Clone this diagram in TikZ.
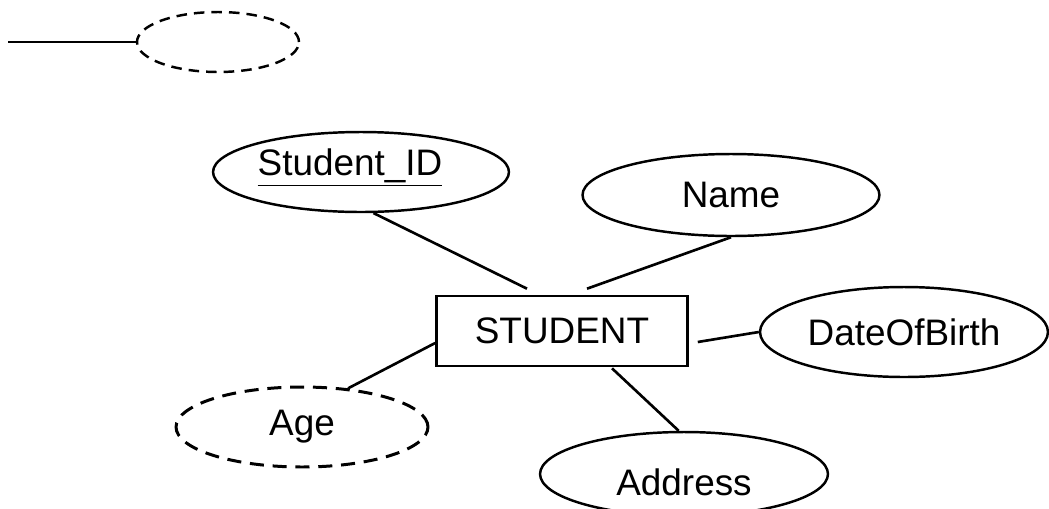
\documentclass[tikz,border=0pt]{standalone}
\usepackage{fontspec}
\setmainfont{Liberation Sans}
\usetikzlibrary{shapes.geometric,calc}
\tikzset{
  entbox/.style={draw, line width=1.5pt, minimum width=5.02cm, minimum height=1.4cm, inner sep=0pt},
  attr/.style={draw, ellipse, line width=1.4pt, inner sep=0pt},
  dattr/.style={attr, line width=1.7pt, dashed, dash pattern=on 8pt off 5pt},
  lnk/.style={line width=1.5pt},
}

\begin{document}
\begin{tikzpicture}[x=0.02cm, y=-0.02cm, font=\fontsize{21}{25}\selectfont]
    \useasboundingbox (0,0) rectangle (1049,508);
    % legend: derived attribute
    \coordinate (lg) at (8,42);
    \node[dattr, line width=1.4pt, dash pattern=on 6pt off 4pt, minimum width=3.24cm, minimum height=1.2cm] (key) at (218,42) {};
    \draw[line width=0.8pt] (lg) -- (key.west);
    % entity and attributes
    \node[entbox] (stu) at (562,331) {STUDENT};
    \node[attr, minimum width=5.92cm, minimum height=1.6cm,
          label={[xshift=-0.22cm, yshift=0.08cm]center:\underline{Student\_ID}}] (sid) at (361,172) {};
    \node[attr, minimum width=5.94cm, minimum height=1.64cm] (nm) at (731,195) {Name};
    \node[attr, minimum width=5.76cm, minimum height=1.8cm] (dob) at (904,332) {DateOfBirth};
    \node[dattr, minimum width=5.04cm, minimum height=1.6cm] (age) at (302,427) {Age};
    \node[attr, minimum width=5.76cm, minimum height=1.68cm,
          label={[yshift=-0.16cm]center:Address}] (addr) at (684,474) {};
    % links
    \draw[lnk] (sid.-73) -- ($(stu.north)+(-35,-6)$);
    \draw[lnk] (nm.south) -- ($(stu.north)+(25,-6)$);
    \draw[lnk] ($(stu.east)+(9,11)$) -- (dob.west);
    \draw[lnk] ($(stu.south)+(50,1)$) -- (addr.97);
    \draw[lnk] ($(stu.west)+(0,12)$) -- (age.40);
\end{tikzpicture}
\end{document}
